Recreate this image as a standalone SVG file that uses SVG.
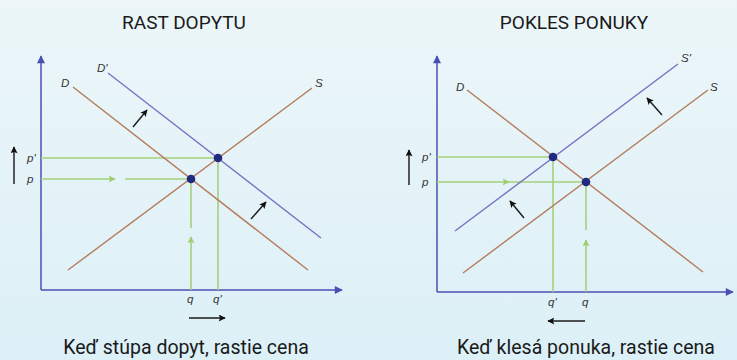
<svg xmlns="http://www.w3.org/2000/svg" width="737" height="360" viewBox="0 0 737 360">
<defs>
<linearGradient id="bg" x1="0" y1="0" x2="0" y2="1">
<stop offset="0" stop-color="#ecf6f9"/>
<stop offset="1" stop-color="#dcf0f7"/>
</linearGradient>
<marker id="ax" viewBox="0 0 10 10" refX="9" refY="5" markerWidth="10" markerHeight="8" markerUnits="userSpaceOnUse" orient="auto"><path d="M0,0 L10,5 L0,10 Z" fill="#4b4fb2"/></marker>
<marker id="gr" viewBox="0 0 10 10" refX="9" refY="5" markerWidth="9" markerHeight="7" markerUnits="userSpaceOnUse" orient="auto"><path d="M0,0 L10,5 L0,10 L2,5 Z" fill="#9fcd6e"/></marker>
<marker id="bk" viewBox="0 0 10 10" refX="9" refY="5" markerWidth="9" markerHeight="7" markerUnits="userSpaceOnUse" orient="auto"><path d="M0,0 L10,5 L0,10 L2,5 Z" fill="#111"/></marker>
</defs>
<style>
.axis{stroke:#4b4fb2;stroke-width:1.5;fill:none}
.brown{stroke:#b57c5c;stroke-width:1.4;fill:none}
.purple{stroke:#7a6fc6;stroke-width:1.4;fill:none}
.green{stroke:#a5d07c;stroke-width:1.6;fill:none}
.blk{stroke:#1a1a1a;stroke-width:1.4;fill:none}
.gray{stroke:#444;stroke-width:1.8;fill:none}
.dot{fill:#1f2a80}
.lbl{font-family:"Liberation Sans",Arial,sans-serif;font-style:italic;font-size:11.5px;fill:#333}
.title{font-family:Roboto,"Liberation Sans",sans-serif;font-size:19px;fill:#1a1a1a;text-anchor:middle}
.cap{font-family:Roboto,"Liberation Sans",sans-serif;font-size:19.5px;fill:#1a1a1a;text-anchor:middle}
</style>
<rect width="737" height="360" fill="url(#bg)"/>
<text class="title" x="184" y="29">RAST DOPYTU</text>
<text class="title" x="574" y="29">POKLES PONUKY</text>

<g id="connectors">
<!-- left panel -->
<path class="axis" d="M41,290 V56" marker-end="url(#ax)"/>
<path class="axis" d="M41,290 H342" marker-end="url(#ax)"/>
<path class="green" d="M41,158 H218 V290"/>
<path class="green" d="M41,179 H115" marker-end="url(#gr)"/>
<path class="green" d="M125,179 H191 V228"/>
<path class="green" d="M191,290 V237" marker-end="url(#gr)"/>
<path class="brown" d="M73,87 L308,270"/>
<path class="brown" d="M68,270 L312,88"/>
<path class="purple" d="M108,73 L321,238"/>
<path class="blk" d="M133,127 L147,110" marker-end="url(#bk)"/>
<path class="blk" d="M251,219 L266,202" marker-end="url(#bk)"/>
<path class="gray" d="M14,184 V147" marker-end="url(#bk)"/>
<path class="blk" d="M189,318 H225" marker-end="url(#bk)"/>
<!-- right panel -->
<path class="axis" d="M437,292 V56" marker-end="url(#ax)"/>
<path class="axis" d="M437,292 H733" marker-end="url(#ax)"/>
<path class="green" d="M437,157 H553 V292"/>
<path class="green" d="M437,182 H509" marker-end="url(#gr)"/>
<path class="green" d="M507,182 H586 V230"/>
<path class="green" d="M586,292 V240" marker-end="url(#gr)"/>
<path class="brown" d="M467,90 L703,272"/>
<path class="brown" d="M463,273 L708,90"/>
<path class="purple" d="M455,231 L678,64"/>
<path class="blk" d="M662,115 L647,98" marker-end="url(#bk)"/>
<path class="blk" d="M524,218 L510,201" marker-end="url(#bk)"/>
<path class="gray" d="M409,185 V150" marker-end="url(#bk)"/>
<path class="blk" d="M585,321 H548" marker-end="url(#bk)"/>
</g>

<g id="left-labels">
<text class="lbl" x="61" y="87">D</text>
<text class="lbl" x="97" y="72">D'</text>
<text class="lbl" x="315" y="87">S</text>
<text class="lbl" x="27" y="162">p'</text>
<text class="lbl" x="27" y="183">p</text>
<text class="lbl" x="187" y="303">q</text>
<text class="lbl" x="213" y="303">q'</text>
</g>
<g id="left-points">
<circle class="dot" cx="191" cy="179" r="4.3"/>
<circle class="dot" cx="218" cy="158" r="4.3"/>
</g>
<g id="right-labels">
<text class="lbl" x="456" y="91">D</text>
<text class="lbl" x="710" y="91">S</text>
<text class="lbl" x="681" y="62">S'</text>
<text class="lbl" x="422" y="161">p'</text>
<text class="lbl" x="422" y="186">p</text>
<text class="lbl" x="548" y="306">q'</text>
<text class="lbl" x="582" y="306">q</text>
</g>
<g id="right-points">
<circle class="dot" cx="553" cy="157" r="4.3"/>
<circle class="dot" cx="586" cy="182" r="4.3"/>
</g>
<text class="cap" x="186" y="354">Keď stúpa dopyt, rastie cena</text>
<text class="cap" x="586" y="354">Keď klesá ponuka, rastie cena</text>
</svg>
